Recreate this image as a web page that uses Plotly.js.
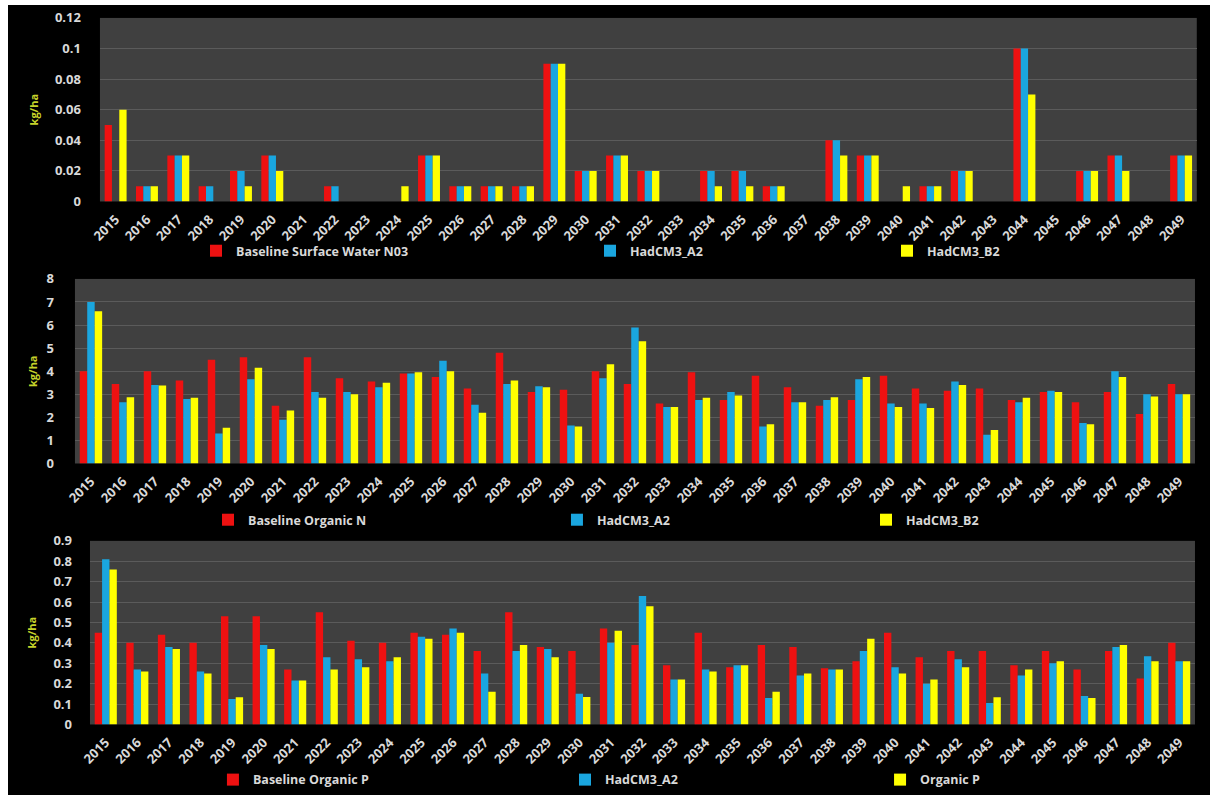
<!DOCTYPE html>
<html>
<head>
<meta charset="utf-8">
<script src="https://cdn.plot.ly/plotly-3.0.1.min.js"></script>
<style>
html,body{margin:0;padding:0;background:#ffffff;width:1210px;height:795px;overflow:hidden;}
#chart{position:absolute;left:8px;top:5px;width:1202px;height:790px;}
</style>
</head>
<body>
<div id="chart"></div>
<script>
const years = ["2015","2016","2017","2018","2019","2020","2021","2022","2023","2024","2025","2026","2027","2028","2029","2030","2031","2032","2033","2034","2035","2036","2037","2038","2039","2040","2041","2042","2043","2044","2045","2046","2047","2048","2049"];

const no3Base = [0.05,0.01,0.03,0.01,0.02,0.03,0,0.01,0,0,0.03,0.01,0.01,0.01,0.09,0.02,0.03,0.02,0,0.02,0.02,0.01,0,0.04,0.03,0,0.01,0.02,0,0.1,0,0.02,0.03,0,0.03];
const no3A2   = [0,0.01,0.03,0.01,0.02,0.03,0,0.01,0,0,0.03,0.01,0.01,0.01,0.09,0.02,0.03,0.02,0,0.02,0.02,0.01,0,0.04,0.03,0,0.01,0.02,0,0.1,0,0.02,0.03,0,0.03];
const no3B2   = [0.06,0.01,0.03,0,0.01,0.02,0,0,0,0.01,0.03,0.01,0.01,0.01,0.09,0.02,0.03,0.02,0,0.01,0.01,0.01,0,0.03,0.03,0.01,0.01,0.02,0,0.07,0,0.02,0.02,0,0.03];

const orgNBase = [4.0,3.45,4.0,3.6,4.5,4.6,2.5,4.6,3.7,3.55,3.9,3.75,3.25,4.8,3.1,3.2,4.0,3.45,2.6,3.95,2.75,3.8,3.3,2.5,2.75,3.8,3.25,3.15,3.25,2.75,3.1,2.65,3.1,2.15,3.45];
const orgNA2   = [7.0,2.65,3.4,2.8,1.3,3.65,1.9,3.1,3.1,3.3,3.9,4.45,2.55,3.45,3.35,1.65,3.7,5.9,2.45,2.75,3.1,1.6,2.65,2.75,3.65,2.6,2.6,3.55,1.25,2.65,3.15,1.75,4.0,3.0,3.0];
const orgNB2   = [6.6,2.87,3.38,2.85,1.55,4.15,2.3,2.85,3.0,3.5,3.95,4.0,2.2,3.6,3.3,1.6,4.3,5.3,2.45,2.85,2.95,1.7,2.65,2.87,3.75,2.45,2.4,3.4,1.45,2.85,3.1,1.7,3.75,2.9,3.0];

const orgPBase = [0.45,0.40,0.44,0.40,0.53,0.53,0.27,0.55,0.41,0.40,0.45,0.44,0.36,0.55,0.38,0.36,0.47,0.39,0.29,0.45,0.28,0.39,0.38,0.275,0.31,0.45,0.33,0.36,0.36,0.29,0.36,0.27,0.36,0.225,0.40];
const orgPA2   = [0.81,0.27,0.38,0.26,0.125,0.39,0.215,0.33,0.32,0.31,0.43,0.47,0.25,0.36,0.37,0.15,0.40,0.63,0.22,0.27,0.29,0.13,0.24,0.27,0.36,0.28,0.20,0.32,0.105,0.24,0.30,0.14,0.38,0.335,0.31];
const orgPB2   = [0.76,0.26,0.37,0.25,0.133,0.37,0.215,0.27,0.28,0.33,0.42,0.45,0.16,0.39,0.33,0.135,0.46,0.58,0.22,0.26,0.29,0.16,0.25,0.27,0.42,0.25,0.22,0.28,0.133,0.27,0.31,0.13,0.39,0.31,0.31];

const names1 = ["Baseline Surface Water N03","HadCM3_A2","HadCM3_B2"];
const names2 = ["Baseline Organic N","HadCM3_A2","HadCM3_B2"];
const names3 = ["Baseline Organic P","HadCM3_A2","Organic P"];

const colors = ["#ee1111","#1aa6df","#ffff00"];
const tickFont = {family:"Open Sans, Liberation Sans, sans-serif", size:13, color:"#d9d9d9", weight:"bold"};

const panels = [
  {vals:[no3Base,no3A2,no3B2], names:names1, xa:"x", ya:"y"},
  {vals:[orgNBase,orgNA2,orgNB2], names:names2, xa:"x2", ya:"y2"},
  {vals:[orgPBase,orgPA2,orgPB2], names:names3, xa:"x3", ya:"y3"}
];

const traces = [];
let li = 1;
panels.forEach(p => {
  p.vals.forEach((v, i) => {
    traces.push({
      type:"bar", x:years, y:v, name:p.names[i],
      xaxis:p.xa, yaxis:p.ya,
      marker:{color:colors[i], line:{width:0}},
      legend: li === 1 ? "legend" : "legend" + li
    });
    li++;
  });
});

function xax(domain){
  return {domain:domain, type:"category", tickangle:-45, tickfont:tickFont,
    showgrid:false, zeroline:false, showline:false, ticks:"", ticklabelstandoff:7};
}
function yax(domain, range, dtick, standoff, tstand){
  return {domain:domain, range:range, dtick:dtick, tickfont:tickFont,
    showgrid:true, gridcolor:"#5b5b5b", gridwidth:1, zeroline:false, showline:false,
    ticks:"", ticklabelstandoff:standoff,
    title:{text:"kg/ha", font:{family:"Open Sans, Liberation Sans, sans-serif", size:11, color:"#c6d22a", weight:"bold"}, standoff:tstand}};
}

const legFont = {family:"Open Sans, Liberation Sans, sans-serif", size:12.5, color:"#d9d9d9", weight:"bold"};
function leg(x, y){
  return {x:x, y:y, xanchor:"left", yanchor:"middle", orientation:"h",
    bgcolor:"rgba(0,0,0,0)", font:legFont, itemwidth:30};
}

const layout = {
  width:1202, height:790,
  paper_bgcolor:"#000000", plot_bgcolor:"#404040",
  margin:{l:0, r:0, t:0, b:0},
  barmode:"group", bargap:0.3, bargroupgap:0,
  xaxis: Object.assign(xax([0.0765,0.989]), {anchor:"y"}),
  yaxis: Object.assign(yax([0.7494,0.9835],[0,0.12],0.02,18,14), {anchor:"x"}),
  xaxis2: Object.assign(xax([0.0557,0.9875]), {anchor:"y2"}),
  yaxis2: Object.assign(yax([0.4152,0.6506],[0,8],1,20,6), {anchor:"x2"}),
  xaxis3: Object.assign(xax([0.0682,0.9875]), {anchor:"y3"}),
  yaxis3: Object.assign(yax([0.0823,0.3165],[0,0.9],0.1,17,14), {anchor:"x3"}),
  legend: leg(0.1564,0.6861),
  legend2: leg(0.4842,0.6861),
  legend3: leg(0.7313,0.6861),
  legend4: leg(0.1664,0.3430),
  legend5: leg(0.4567,0.3430),
  legend6: leg(0.7138,0.3430),
  legend7: leg(0.1705,0.0115),
  legend8: leg(0.4634,0.0115),
  legend9: leg(0.7255,0.0115),
  showlegend:true
};

Plotly.newPlot("chart", traces, layout, {displayModeBar:false, staticPlot:true});
</script>
</body>
</html>
